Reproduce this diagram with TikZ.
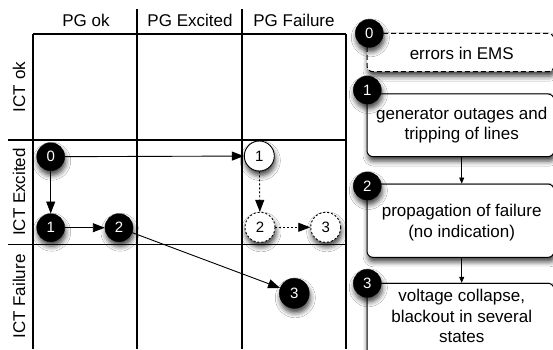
\documentclass[tikz,border=0pt]{standalone}
\usepackage{fontspec}
\setmainfont{Liberation Sans}
\usetikzlibrary{arrows.meta,shadows.blur}
\begin{document}
\begin{tikzpicture}[x=1pt,y=-1pt,
  gridline/.style={line width=1.2pt},
  lbl/.style={font=\fontsize{17}{20}\selectfont, inner sep=0pt, anchor=base},
  shd/.style={blur shadow={shadow xshift=1pt, shadow yshift=-4.5pt, shadow blur radius=5pt, shadow opacity=75}},
  blk/.style={circle, fill=black, draw=black, text=white, minimum size=28pt, inner sep=0pt, font=\fontsize{15}{15}\selectfont, shd},
  wht/.style={circle, fill=white, draw=black, line width=0.9pt, minimum size=30pt, inner sep=0pt, font=\fontsize{15}{15}\selectfont, shd},
  dsh/.style={wht, dash pattern=on 2pt off 2pt},
  arr/.style={-{Triangle[length=12pt,width=9pt]}, line width=0.9pt},
  dotarr/.style={arr, dash pattern=on 2pt off 2pt},
  sarr/.style={-{Triangle[length=6pt,width=5pt]}, line width=0.8pt},
  box/.style={draw=black, fill=white, rounded corners=6pt, line width=1pt, minimum width=187pt, inner sep=0pt, shd},
  boxtxt/.style={font=\fontsize{17}{20.5}\selectfont, align=center, inner sep=0pt}
]
\useasboundingbox (0,0) rectangle (553,349);
\clip (0,0) rectangle (553,349);
\fill[white] (0,0) rectangle (553,349);

% grid
\draw[gridline] (33,34) -- (346,34);
\draw[gridline] (8,140) -- (346,140);
\draw[gridline] (8,244.5) -- (346,244.5);
\draw[gridline] (33,34) -- (33,349);
\draw[gridline] (137,9) -- (137,349);
\draw[gridline] (242,9) -- (242,349);
\draw[gridline] (346,34) -- (346,349);

% headers
\node[lbl] (h1) at (86,26.7) {PG ok};
\node[lbl] (h2) at (190,26.7) {PG Excited};
\node[lbl] (h3) at (294,26.7) {PG Failure};
\node[lbl, rotate=90] (r1) at (25,87) {ICT ok};
\node[lbl, rotate=90] (r2) at (25,192) {ICT Excited};
\node[lbl, rotate=90] (r3) at (25,296.5) {ICT Failure};

% state nodes
\node[blk] (b0) at (50.7,156.7) {0};
\node[wht] (w1) at (259.3,156) {1};
\node[blk] (b1) at (50.7,227.7) {1};
\node[blk] (b2) at (119,227.7) {2};
\node[dsh] (d2) at (260,227.3) {2};
\node[dsh] (d3) at (325.7,227.3) {3};
\node[blk, minimum size=30pt] (b3) at (294.3,293.3) {3};

\draw[arr] (b0) -- (w1);
\draw[arr] (b0) -- (b1);
\draw[arr] (b1) -- (b2);
\draw[arr] (b2) -- (b3);
\draw[dotarr] (w1) -- (d2);
\draw[dotarr] (d2) -- (d3);

% legend boxes
\node[box, dashed, dash pattern=on 5pt off 3pt, minimum height=38.4pt] (x0) at (460.5,52.5) {};
\node[boxtxt] (t0) at (461.7,53.3) {errors in EMS};
\node[box, minimum height=62.7pt] (x1) at (460.5,125.3) {};
\node[boxtxt] (t1) at (461.7,125) {generator outages and\\tripping of lines};
\node[box, minimum height=73.3pt] (x2) at (460.5,220.7) {};
\node[boxtxt] (t2) at (461.7,222.5) {propagation of failure\\(no indication)};
\node[box, minimum height=90pt] (x3) at (460.5,328.3) {};
\node[boxtxt] (t3) at (461.7,316) {voltage collapse,\\blackout in several\\states};

\draw[sarr] (x1.south -| t1) -- (x2.north -| t1);
\draw[sarr] (x2.south -| t2) -- (x3.north -| t2);

\node[blk] (k0) at (369.3,33.3) {0};
\node[blk] (k1) at (367.3,90) {1};
\node[blk] (k2) at (367.3,186) {2};
\node[blk] (k3) at (367.3,283.3) {3};
\end{tikzpicture}
\end{document}
